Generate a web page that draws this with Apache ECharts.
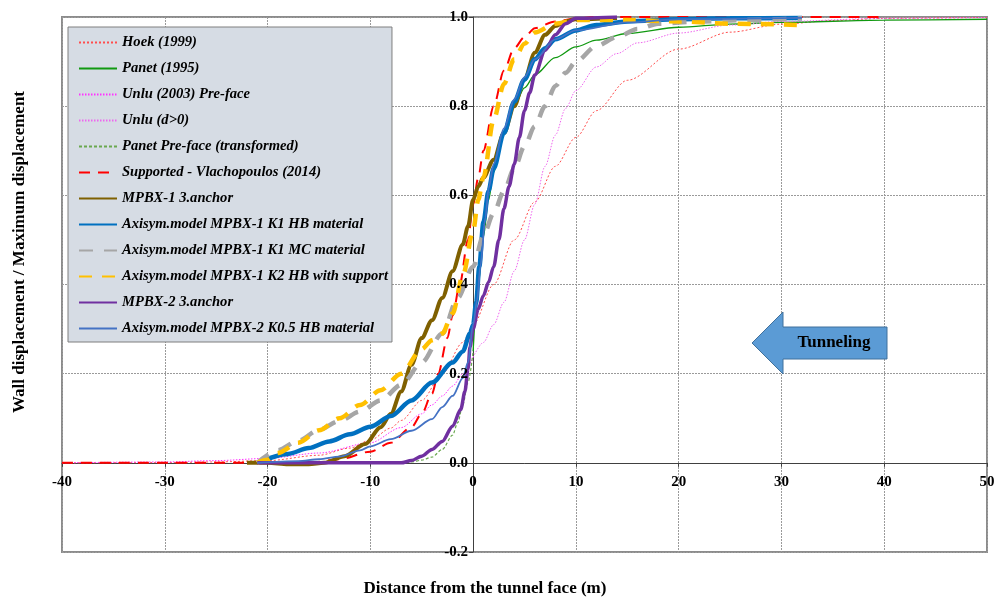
<!DOCTYPE html>
<html><head><meta charset="utf-8">
<script src="https://cdn.jsdelivr.net/npm/echarts@6/dist/echarts.min.js"></script>
<style>html,body{margin:0;padding:0;background:#fff}#c{width:998px;height:598px}</style>
</head><body><div id="c"></div>
<script>
const xTicks = [-40,-30,-20,-10,0,10,20,30,40,50];
const yTicks = [-0.2,0,0.2,0.4,0.6,0.8,1.0];
const names = ['Hoek (1999)','Panet (1995)','Unlu (2003) Pre-face','Unlu (d>0)','Panet Pre-face (transformed)','Supported - Vlachopoulos (2014)','MPBX-1 3.anchor','Axisym.model MPBX-1 K1 HB material','Axisym.model MPBX-1 K1 MC material','Axisym.model MPBX-1 K2 HB with support','MPBX-2 3.anchor','Axisym.model MPBX-2 K0.5 HB material'];

const hoek = [[-40,0],[-30,0.0005],[-25,0.002],[-20,0.005],[-15,0.017],[-12,0.033],[-10,0.051],[-8,0.078],[-7,0.095],[-5,0.14],[-3,0.2],[-1,0.27],[0,0.31],[2,0.4],[4,0.5],[6,0.585],[8,0.665],[10,0.73],[12,0.79],[15,0.858],[20,0.928],[25,0.966],[30,0.984],[35,0.992],[40,0.997],[50,0.999]];
const panet = [[0,0.25],[0.5,0.4],[1,0.507],[1.5,0.589],[2,0.652],[3,0.741],[4,0.8],[5,0.841],[6,0.87],[8,0.909],[10,0.933],[12,0.948],[15,0.963],[20,0.977],[25,0.984],[30,0.988],[40,0.993],[50,0.995]];
const unluPre = [[-40,0],[-30,0.002],[-25,0.005],[-20,0.01],[-15,0.022],[-10,0.045],[-7,0.079],[-5,0.11],[-4,0.13],[-3,0.15],[-2,0.172],[-1,0.2],[0,0.237]];
const unluPost = [[0,0.237],[1,0.27],[2,0.31],[3,0.36],[4,0.43],[5,0.5],[6,0.58],[7,0.665],[8,0.735],[9,0.795],[10,0.835],[12,0.888],[14,0.918],[16,0.942],[20,0.964],[25,0.982],[30,0.99],[40,0.997],[50,0.999]];
const panetPre = [[-7,0],[-6,0.002],[-5,0.006],[-4,0.013],[-3,0.03],[-2,0.062],[-1.5,0.09],[-1,0.13],[-0.5,0.18],[0,0.25]];
const vlach = [[-40,0],[-16,0],[-13,0.008],[-10,0.025],[-8,0.045],[-6,0.08],[-5,0.11],[-4,0.155],[-3.4,0.2],[-2.5,0.28],[-2,0.33],[-1.3,0.4],[-0.5,0.5],[0,0.58],[0.5,0.64],[1,0.7],[2,0.8],[3,0.88],[4,0.93],[5,0.955],[6,0.975],[8,0.99],[10,0.997],[12,1.0],[40,1.0]];
const mpbx1 = [[-22,0],[-20,0],[-18,-0.003],[-16,-0.003],[-14.5,0],[-12.5,0.015],[-10.5,0.042],[-9,0.08],[-8,0.11],[-7,0.16],[-6,0.22],[-5,0.28],[-4,0.32],[-3,0.37],[-2,0.43],[-1,0.49],[-0.5,0.53],[0,0.59],[0.5,0.62],[1,0.64],[2,0.68],[3,0.74],[4,0.8],[5,0.86],[6,0.92],[7,0.96],[8,0.98],[9,0.99],[10,0.995],[14,0.998]];
const axK1HB = [[-21,0],[-18,0.02],[-16,0.033],[-14,0.048],[-12,0.064],[-10,0.081],[-8,0.105],[-6,0.14],[-4,0.18],[-2,0.225],[-1,0.25],[-0.3,0.29],[0,0.31],[0.3,0.36],[0.6,0.44],[1,0.54],[1.5,0.61],[2,0.66],[3,0.74],[4,0.81],[5,0.86],[6,0.905],[7,0.93],[8,0.95],[10,0.97],[12,0.982],[15,0.99],[20,0.995],[25,0.997],[32,0.998]];
const axK1MC = [[-21,0],[-19,0.028],[-17,0.05],[-15,0.074],[-13,0.094],[-11,0.115],[-9,0.14],[-7,0.175],[-5,0.225],[-3,0.29],[-1.5,0.37],[0,0.44],[1,0.51],[2,0.56],[3,0.61],[4,0.66],[5,0.71],[6,0.755],[7,0.8],[8,0.845],[9,0.875],[10,0.9],[12,0.935],[14,0.955],[16,0.973],[18,0.985],[22,0.99],[26,0.993],[32,0.997]];
const axK2HB = [[-21,0],[-20,0.007],[-19,0.022],[-17,0.045],[-15,0.073],[-13,0.1],[-11,0.13],[-9,0.163],[-7,0.2],[-5,0.255],[-4,0.275],[-3,0.29],[-2,0.335],[-1,0.42],[0,0.52],[0.5,0.59],[1,0.64],[2,0.77],[3,0.85],[4,0.905],[5,0.94],[6,0.965],[8,0.985],[10,0.993],[15,0.993],[20,0.99],[25,0.985],[32,0.982]];
const mpbx2 = [[-21,0],[-10,0],[-7,0],[-6,0.005],[-5,0.015],[-4,0.03],[-3,0.048],[-2,0.082],[-1.2,0.12],[-0.8,0.16],[-0.5,0.21],[-0.3,0.26],[0,0.3],[0.5,0.345],[1,0.375],[1.5,0.405],[2,0.44],[2.5,0.5],[3,0.57],[3.5,0.62],[4,0.67],[4.5,0.73],[5,0.79],[5.5,0.83],[6,0.87],[7,0.925],[8,0.96],[9,0.985],[10,0.997],[14,1.0]];
const axK05HB = [[-21,0],[-17,0.004],[-15,0.008],[-13,0.014],[-11,0.028],[-10,0.037],[-8,0.053],[-6,0.072],[-4,0.098],[-3,0.125],[-2,0.15],[-1,0.19],[-0.5,0.225],[0,0.31],[0.4,0.366],[0.7,0.44],[1.2,0.55],[1.5,0.615],[2,0.67],[3,0.75],[4,0.815],[5,0.865],[6,0.905],[8,0.95],[10,0.97],[15,0.988],[20,0.995],[32,0.998]];

const styles = [
  {data:hoek, color:'#FF4D4D', width:1, type:[2,2]},
  {data:panet, color:'#119911', width:1.3, type:'solid'},
  {data:unluPre, color:'#FF33FF', width:1, type:[1.5,1.5]},
  {data:unluPost, color:'#EE66EE', width:1, type:[1.5,1.5]},
  {data:panetPre, color:'#6AA84F', width:1.2, type:[3,2]},
  {data:vlach, color:'#FF0000', width:2, type:[11,8]},
  {data:mpbx1, color:'#7F6000', width:4, type:'solid'},
  {data:axK1HB, color:'#0070C0', width:4.5, type:'solid'},
  {data:axK1MC, color:'#A6A6A6', width:4.5, type:[14,11]},
  {data:axK2HB, color:'#FFC000', width:4.5, type:[13,10]},
  {data:mpbx2, color:'#7030A0', width:3.5, type:'solid'},
  {data:axK05HB, color:'#4472C4', width:1.8, type:'solid'}
];

const font = 'Liberation Serif, Times New Roman, serif';
const W = 998, H = 598, gl = 62, gt = 17, gr = 11, gb = 46;
const xMin = xTicks[0], xMax = xTicks[xTicks.length-1], yMin = yTicks[0], yMax = yTicks[yTicks.length-1];
// shift axes so they sit on the zero lines
const yAxisOffset = -((0 - xMin) / (xMax - xMin)) * (W - gl - gr);
const xAxisOffset = -((0 - yMin) / (yMax - yMin)) * (H - gt - gb);
const labelStyle = {color:'#000', fontFamily:font, fontWeight:'bold', fontSize:15};

const chart = echarts.init(document.getElementById('c'), null, {renderer:'canvas'});
chart.setOption({
  animation:false,
  backgroundColor:'#ffffff',
  grid:{left:gl, top:gt, right:gr, bottom:gb, show:true, borderColor:'#8c8c8c', borderWidth:2, backgroundColor:'transparent'},
  xAxis:{type:'value', min:xMin, max:xMax, interval:10, offset:xAxisOffset,
    axisLine:{onZero:false, lineStyle:{color:'#404040', width:1}},
    axisTick:{show:true, length:4, lineStyle:{color:'#404040'}},
    axisLabel:Object.assign({margin:12}, labelStyle),
    splitLine:{show:true, lineStyle:{color:'#9a9a9a', type:[2,1], width:1}}},
  yAxis:[
    {type:'value', min:yMin, max:yMax, interval:0.2, offset:yAxisOffset,
    axisLine:{onZero:false, lineStyle:{color:'#404040', width:1}},
    axisTick:{show:true, length:4, lineStyle:{color:'#404040'}},
    axisLabel:{show:false},
    splitLine:{show:true, lineStyle:{color:'#9a9a9a', type:[2,1], width:1}}},
    {type:'value', position:'left', min:yMin, max:yMax, interval:0.2, offset:yAxisOffset, z:20,
    axisLine:{show:false}, axisTick:{show:false}, splitLine:{show:false},
    axisLabel:Object.assign({margin:5, formatter:v=>v.toFixed(1)}, labelStyle)}
  ],
  legend:{orient:'vertical', left:68, top:27, padding:[8,4,6,10], itemWidth:38, itemHeight:14, itemGap:11,
    backgroundColor:'#D6DCE4', borderColor:'#7f7f7f', borderWidth:1,
    itemStyle:{opacity:0},
    textStyle:{fontFamily:font, fontStyle:'italic', fontWeight:'bold', fontSize:14.6, color:'#000'},
    data:names},
  series: styles.map((s,i)=>({name:names[i], type:'line', yAxisIndex:0, data:s.data, showSymbol:false, symbol:'none',
    smooth:0.3, smoothMonotone:'x', clip:true,
    lineStyle:{color:s.color, width:s.width, type:s.type}, itemStyle:{color:s.color}})),
  graphic:[
    {type:'polygon', shape:{points:[[752,343],[783,312],[783,327],[887,327],[887,359],[783,359],[783,374]]},
      style:{fill:'#5B9BD5', stroke:'#41719C', lineWidth:1}, z:10},
    {type:'text', style:{text:'Tunneling', x:834, y:343, textAlign:'center', textVerticalAlign:'middle', font:'bold 17px '+font, fill:'#000'}, z:11},
    {type:'text', style:{text:'Distance from the tunnel face (m)', x:485, y:589, textAlign:'center', textVerticalAlign:'middle', font:'bold 17px '+font, fill:'#000'}},
    {type:'text', x:20, y:252, rotation:Math.PI/2, style:{text:'Wall displacement / Maximum displacement', x:0, y:0, textAlign:'center', textVerticalAlign:'middle', font:'bold 17px '+font, fill:'#000'}}
  ]
});
</script></body></html>
